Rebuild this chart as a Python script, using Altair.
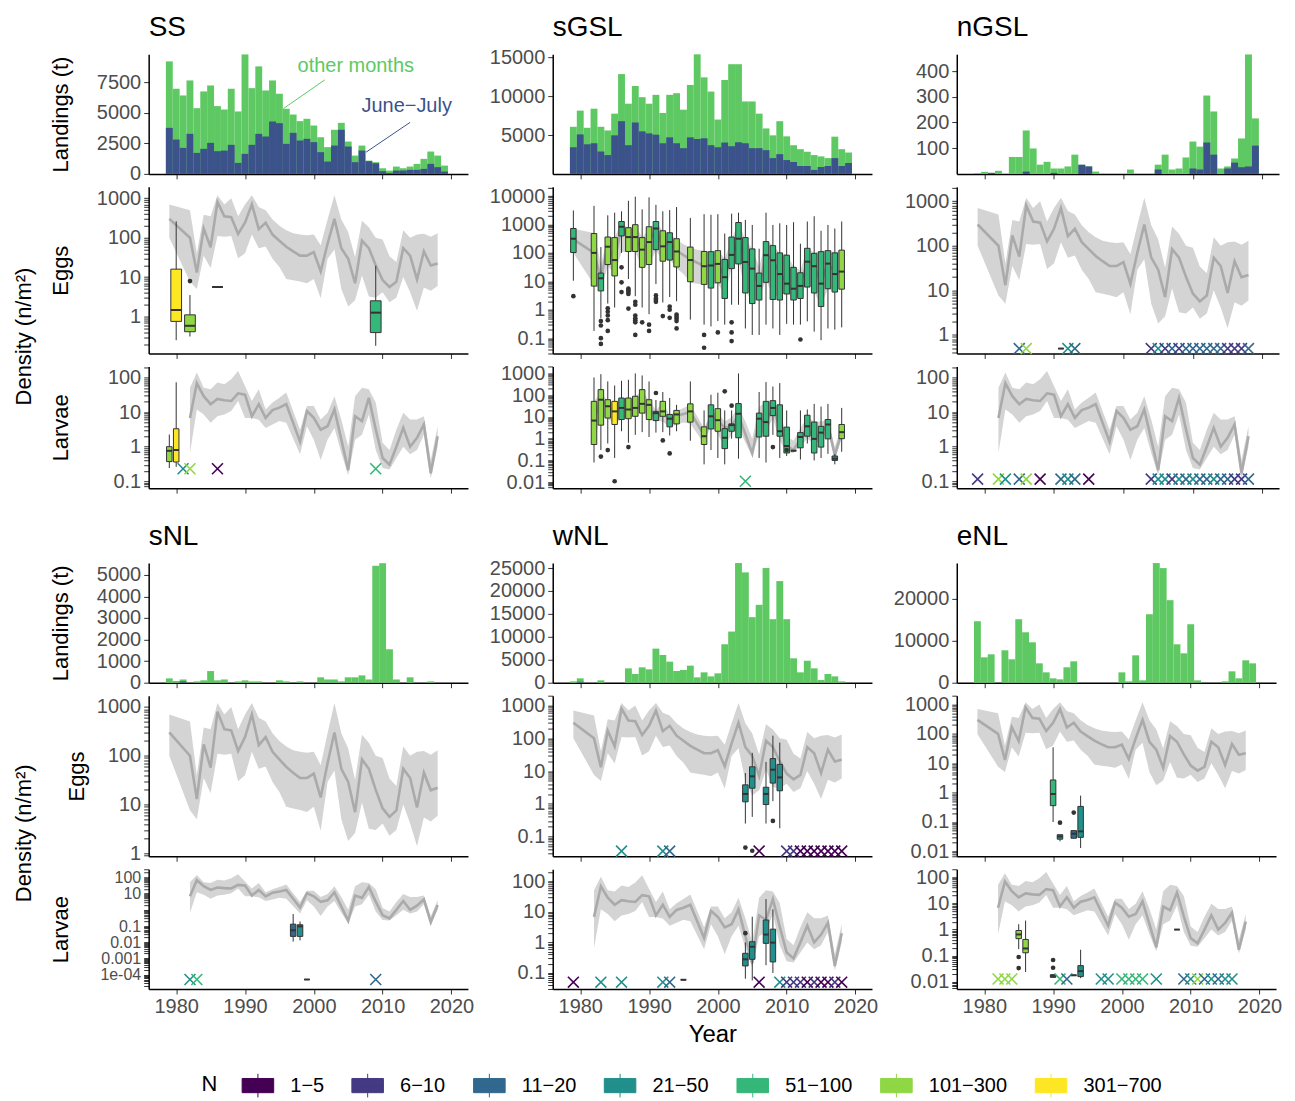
import altair as alt
import pandas as pd

FONT = "Liberation Sans"
N_LEVELS = ["1−5", "6−10", "11−20", "21−50", "51−100", "101−300", "301−700"]
N_COLORS = ["#440154", "#443A83", "#31688E", "#21908C", "#35B779", "#8FD744", "#FDE725"]
LAND_GREEN = "#5EC962"
LAND_BLUE = "#3B528B"
BAND_GREY = "#D4D4D4"
LINE_GREY = "#AAAAAA"
INK = "#333333"

# ---------------- survey index (grey band + line, same in every panel) ----------------
EGG_IDX_YEARS = [1979, 1982, 1983, 1984, 1985, 1986, 1987, 1988, 1989, 1990, 1991, 1992, 1993,
                 1994, 1995, 1996, 1997, 1998, 1999, 2000, 2001, 2002, 2003, 2004, 2005, 2006,
                 2007, 2008, 2009, 2010, 2011, 2012, 2013, 2014, 2015, 2016, 2017, 2018]
EGG_IDX_MEAN = [300, 100, 13, 170, 57, 800, 350, 330, 125, 240, 700, 165, 240, 120, 84, 59, 45, 35,
                35, 43, 14, 70, 300, 54, 29, 7, 84, 54, 20, 8.4, 5.6, 7.6, 54, 35, 8.7, 45, 19.6, 22]
EGG_IDX_LO = [100, 7.6, 5, 35, 17, 110, 105, 110, 30, 40, 120, 54, 60, 29, 18, 9, 8.3, 7.7, 7, 9,
              2.9, 29, 50, 5, 1.8, 2.6, 11, 3.2, 3, 4.1, 2.3, 3, 10, 4.1, 1.4, 5.4, 4.5, 5.9]
EGG_IDX_HI = [700, 500, 40, 380, 350, 1200, 700, 1000, 350, 700, 1200, 600, 500, 290, 200, 155, 130,
              120, 115, 120, 64, 290, 1200, 290, 140, 32, 270, 185, 100, 90, 34, 24, 155, 100, 120,
              125, 105, 130]

LARV_IDX_YEARS = [1982, 1983, 1984, 1985, 1986, 1987, 1988, 1989, 1990, 1991, 1992, 1993, 1994,
                  1995, 1996, 1998, 1999, 2000, 2001, 2002, 2003, 2004, 2005, 2006, 2007, 2008,
                  2009, 2010, 2011, 2012, 2013, 2014, 2015, 2016, 2017, 2018]
LARV_IDX_MEAN = [6.8, 68, 29, 17, 24, 22, 21, 35, 32, 7.6, 17, 6.8, 11.5, 13.5, 17, 1.4, 10.7, 6.8,
                 3.1, 3.9, 12, 1.6, 0.21, 7.6, 5.5, 26, 3.2, 0.47, 0.3, 1.0, 3.5, 1.0, 1.8, 4.4,
                 0.17, 2.0]
LARV_IDX_LO = [0.66, 12, 8.5, 4.9, 7.6, 8.5, 10.7, 21, 6.8, 6.8, 6, 3.5, 4.4, 5.5, 4.9, 0.6, 3.9,
               1.6, 0.41, 1.6, 3.5, 0.66, 0.15, 1.6, 2.2, 8.5, 0.8, 0.24, 0.22, 0.47, 1.0, 0.6, 0.8,
               2.2, 0.12, 1.0]
LARV_IDX_HI = [51, 140, 51, 46, 72, 64, 90, 156, 57, 21, 46, 12, 19, 26, 37, 3.1, 15, 15, 6.1, 9.6,
               29, 6.1, 1.0, 29, 51, 46, 19, 1.3, 0.8, 3.1, 9.6, 6.1, 6.1, 7.6, 0.41, 3.9]

# ---------------- landings (t): total and June-July part ----------------
LAND_YEARS = list(range(1979, 2020))
SS_TOTAL = [9210, 6970, 6420, 7650, 5380, 6750, 7240, 5550, 5270, 6970, 5110, 9780, 7020, 8800,
            6830, 7650, 6560, 5330, 4860, 4320, 4510, 3960, 3000, 2190, 3610, 4180, 2650, 1500,
            2320, 1090, 960, 460, 270, 600, 460, 600, 820, 1230, 1830, 1500, 680]
SS_JJ = [3770, 2810, 2130, 3280, 1720, 2050, 2540, 1860, 1910, 2380, 900, 1640, 2380, 3280, 3060,
         4290, 4150, 2460, 3360, 2730, 2870, 2600, 1780, 1010, 2320, 3610, 2240, 960, 1910, 1040,
         870, 220, 80, 270, 270, 330, 330, 410, 820, 550, 190]
SGSL_TOTAL = [6060, 8140, 5930, 8390, 6060, 5590, 7750, 12840, 9030, 11310, 9870, 9030, 10170,
              7840, 10170, 10380, 8260, 11440, 15380, 12420, 10590, 6990, 12080, 14110, 14110,
              9320, 9320, 7750, 5850, 4960, 6780, 4830, 3690, 3180, 2840, 2420, 2250, 2030, 4790,
              3180, 2750]
SGSL_JJ = [3430, 5080, 3810, 3940, 2880, 2420, 4960, 6780, 3690, 6610, 5470, 5210, 5040, 3940,
           4700, 3940, 3310, 4700, 4490, 4580, 3690, 3430, 4030, 3560, 4070, 3940, 3310, 3310,
           3050, 2030, 2540, 1780, 1530, 1020, 1020, 510, 890, 1020, 2030, 1020, 1400]
NGSL_TOTAL = [3, 8, 4, 12, 0, 66, 66, 169, 99, 36, 47, 21, 21, 29, 75, 36, 29, 9, 0, 0, 0, 0, 17,
              0, 0, 0, 36, 75, 17, 21, 64, 126, 106, 305, 243, 21, 29, 60, 138, 465, 216]
NGSL_JJ = [0, 0, 4, 0, 0, 0, 0, 9, 0, 0, 0, 4, 0, 0, 0, 36, 29, 0, 0, 0, 0, 0, 0, 0, 0, 0, 17, 0,
           0, 0, 0, 21, 17, 122, 75, 0, 21, 44, 26, 29, 110]
SNL_TOTAL = [200, 80, 150, 0, 60, 110, 540, 110, 150, 0, 60, 110, 60, 60, 0, 0, 110, 60, 0, 60, 0,
             0, 250, 150, 150, 60, 250, 250, 340, 150, 5420, 5540, 1550, 150, 0, 250, 0, 0, 60, 0, 0]
SNL_JJ = [0, 0, 60, 0, 0, 0, 0, 0, 0, 0, 0, 0, 0, 0, 0, 0, 0, 0, 0, 0, 0, 0, 0, 0, 0, 0, 0, 0, 0,
          0, 0, 0, 0, 0, 0, 0, 0, 0, 0, 0, 0]
WNL_TOTAL = [290, 950, 0, 0, 510, 0, 0, 0, 3130, 1900, 3350, 2920, 7430, 6050, 4590, 2550, 2770,
             3720, 1170, 2260, 1380, 2040, 8380, 11150, 26090, 24050, 14290, 16980, 25000, 13850,
             22160, 13850, 5320, 2260, 4810, 3130, 580, 1900, 1380, 290, 0]
WNL_JJ = [0, 200, 0, 0, 0, 0, 0, 0, 0, 0, 0, 0, 0, 0, 0, 0, 0, 0, 0, 0, 0, 0, 0, 0, 0, 0, 0, 0, 0,
          0, 0, 0, 0, 0, 0, 0, 0, 0, 0, 0, 0]
ENL_TOTAL = [14660, 6060, 6770, 0, 7730, 5580, 15140, 12030, 9640, 4620, 2470, 1040, 800, 3670,
             5100, 0, 0, 0, 0, 0, 0, 2470, 320, 6530, 560, 16330, 28530, 27330, 19680, 9160, 7010,
             13940, 560, 0, 0, 0, 320, 2710, 1040, 5340, 4620]
ENL_JJ = [0] * 41

# ---------------- boxplots: (year, N, lower whisker, q1, median, q3, upper whisker) ----------------
SS_EGG_BOX = [(1980, "301−700", 0.25, 0.75, 1.46, 15.9, 260), (1982, "101−300", 0.31, 0.41, 0.58, 1.1, 3.5),
              (1986, "1−5", 5.6, 5.6, 5.6, 5.6, 5.6), (2009, "51−100", 0.18, 0.39, 1.25, 2.5, 19.4)]
SS_EGG_OUT = [(1982, 7.9)]
SS_EGG_X = []
SS_LARV_BOX = [(1979, "101−300", 0.24, 0.37, 0.76, 1.0, 2.25), (1980, "301−700", 0.26, 0.36, 0.8, 3.3, 73)]
SS_LARV_OUT = []
SS_LARV_X = [(1981, "21−50"), (1982, "101−300"), (1986, "1−5"), (2009, "51−100")]

SGSL_EGG_BOX = [
    (1979, "51−100", 10.5, 103, 315, 720, 3100), (1982, "101−300", 0.18, 6.8, 100, 480, 4500),
    (1983, "51−100", 0.5, 4.6, 12.8, 19.5, 160), (1984, "101−300", 1.65, 39, 165, 360, 2100),
    (1985, "101−300", 1.2, 15.5, 56, 345, 2600), (1986, "51−100", 100, 395, 830, 1270, 2900),
    (1987, "101−300", 12, 112, 360, 770, 6800), (1988, "101−300", 3, 112, 360, 980, 9500),
    (1989, "101−300", 1.2, 31, 130, 345, 3400), (1990, "101−300", 0.7, 39, 240, 830, 9000),
    (1991, "51−100", 8, 130, 720, 1270, 4900), (1992, "101−300", 1.8, 51, 170, 600, 2900),
    (1993, "51−100", 2.8, 56, 240, 510, 3200), (1994, "101−300", 2, 32, 112, 315, 4100),
    (1996, "101−300", 0.45, 9.7, 56, 160, 1700), (1998, "101−300", 0.3, 7.8, 34, 112, 2300),
    (1999, "51−100", 0.26, 5.8, 36, 110, 2200), (2000, "101−300", 0.4, 8.9, 41, 120, 2300),
    (2001, "51−100", 0.3, 2.5, 14, 59, 480), (2002, "51−100", 1.5, 28, 85, 360, 2400),
    (2003, "51−100", 1.5, 41, 315, 1170, 2600), (2004, "51−100", 0.22, 3.9, 48, 345, 1450),
    (2005, "51−100", 0.13, 1.65, 28, 138, 960), (2006, "51−100", 0.13, 2.2, 6.9, 19.5, 140),
    (2007, "51−100", 0.3, 9.2, 83, 250, 2600), (2008, "51−100", 0.22, 2.3, 55, 180, 960),
    (2009, "51−100", 0.13, 2.2, 18, 100, 1100), (2010, "51−100", 0.32, 3.6, 8.3, 83, 960),
    (2011, "51−100", 0.3, 2.2, 5.5, 31, 1200), (2012, "51−100", 0.3, 2.5, 6.9, 20, 210),
    (2013, "51−100", 0.39, 6.3, 49, 145, 1270), (2014, "51−100", 0.17, 3.9, 34, 96, 1950),
    (2015, "51−100", 0.085, 1.3, 8.3, 110, 600), (2016, "51−100", 0.22, 5.5, 42, 120, 960),
    (2017, "51−100", 0.2, 4.2, 18, 100, 720), (2018, "101−300", 0.24, 5.3, 22, 125, 1270)]
SGSL_EGG_OUT = [(1979, 3.0), (1983, 0.4), (1983, 0.28), (1983, 0.1), (1983, 0.063), (1984, 1.13),
                (1984, 0.85), (1984, 0.63), (1984, 0.43), (1984, 0.18), (1986, 31), (1986, 9.2),
                (1986, 4.2), (1987, 5.5), (1987, 4.9), (1987, 4.2), (1987, 3.6), (1987, 1.1),
                (1988, 1.9), (1988, 1.5), (1988, 0.63), (1988, 0.5), (1988, 0.43), (1988, 0.36),
                (1988, 0.13), (1989, 0.36), (1990, 0.3), (1990, 0.18), (1991, 3.2), (1991, 2.5),
                (1991, 2.2), (1991, 1.9), (1992, 0.6), (1993, 1.3), (1993, 1.0), (1993, 0.52),
                (1994, 0.68), (1994, 0.57), (1994, 0.48), (1994, 0.4), (1994, 0.22), (1998, 0.13),
                (1998, 0.046), (2000, 0.16), (2002, 0.36), (2002, 0.16), (2002, 0.079), (2012, 0.09)]
SGSL_EGG_X = []
SGSL_LARV_BOX = [
    (1982, "101−300", 0.08, 0.54, 6.8, 52, 650), (1983, "101−300", 0.3, 4.2, 62, 180, 930),
    (1984, "101−300", 0.6, 8.9, 31, 62, 430), (1985, "301−700", 0.13, 4.5, 18, 52, 280),
    (1986, "51−100", 2.2, 7.6, 26, 74, 460), (1987, "101−300", 0.65, 8.3, 22, 74, 510),
    (1988, "101−300", 1.5, 10.7, 26, 89, 1000), (1989, "101−300", 2, 15, 40, 180, 810),
    (1990, "101−300", 1.2, 7.6, 36, 62, 430), (1991, "51−100", 1.9, 6.8, 15, 18, 60),
    (1992, "101−300", 2, 10.7, 18, 52, 140), (1993, "51−100", 1.4, 3.5, 8.3, 13, 74),
    (1994, "101−300", 2.2, 4.8, 13, 20, 36), (1996, "101−300", 0.8, 5.8, 18, 40, 430),
    (1998, "101−300", 0.066, 0.54, 1.3, 3.5, 20), (1999, "51−100", 0.3, 2.8, 10.7, 36, 105),
    (2000, "101−300", 0.13, 2.2, 7.1, 24, 130), (2001, "51−100", 0.066, 0.35, 1.1, 2.9, 20),
    (2002, "51−100", 1.0, 2.2, 4.2, 4.8, 20), (2003, "51−100", 0.12, 1.1, 14, 41, 1000),
    (2006, "51−100", 0.13, 1.2, 8.3, 15, 140), (2007, "51−100", 0.08, 1.3, 5.8, 52, 400),
    (2008, "51−100", 1.5, 11.5, 26, 56, 250), (2009, "51−100", 0.13, 1.3, 2.2, 36, 360),
    (2010, "51−100", 0.16, 0.22, 0.46, 3.4, 20), (2011, "51−100", 0.28, 0.28, 0.28, 0.28, 0.28),
    (2012, "51−100", 0.11, 0.38, 1.2, 1.9, 20), (2013, "51−100", 0.6, 1.3, 3.7, 12, 22),
    (2014, "51−100", 0.1, 0.22, 0.98, 5.8, 40), (2015, "51−100", 0.13, 0.41, 1.9, 3.7, 30),
    (2016, "51−100", 0.2, 0.98, 4.5, 7.6, 40), (2017, "21−50", 0.066, 0.1, 0.12, 0.16, 0.2),
    (2018, "101−300", 0.25, 1.0, 2.0, 4.5, 26)]
SGSL_LARV_OUT = [(1983, 0.15), (1984, 0.3), (1985, 0.011), (1987, 0.41), (1991, 126), (1992, 0.83),
                 (1993, 0.21), (2001, 150), (2002, 33), (2008, 0.41), (2010, 0.3)]
SGSL_LARV_X = [(2004, "51−100")]

NGSL_EGG_BOX = [(1991, "11−20", 0.49, 0.49, 0.49, 0.49, 0.49)]
NGSL_EGG_OUT = []
NGSL_EGG_X = [(1985, "11−20"), (1986, "101−300"), (1992, "21−50"), (1993, "11−20"), (2004, "6−10"),
              (2005, "21−50"), (2006, "6−10"), (2007, "11−20"), (2008, "6−10"), (2009, "11−20"),
              (2010, "11−20"), (2011, "11−20"), (2012, "11−20"), (2013, "11−20"), (2014, "11−20"),
              (2015, "6−10"), (2016, "6−10"), (2017, "6−10"), (2018, "11−20")]
NGSL_LARV_BOX = []
NGSL_LARV_OUT = []
NGSL_LARV_X = [(1979, "6−10"), (1982, "101−300"), (1983, "21−50"), (1985, "11−20"), (1986, "101−300"),
               (1988, "1−5"), (1991, "11−20"), (1992, "21−50"), (1993, "11−20"), (1995, "1−5"),
               (2004, "6−10"), (2005, "21−50"), (2006, "21−50"), (2007, "6−10"), (2008, "21−50"),
               (2009, "11−20"), (2010, "21−50"), (2011, "11−20"), (2012, "11−20"), (2013, "21−50"),
               (2014, "11−20"), (2015, "11−20"), (2016, "6−10"), (2017, "6−10"), (2018, "11−20")]

SNL_EGG_BOX = []
SNL_EGG_OUT = []
SNL_EGG_X = []
SNL_LARV_BOX = [(1997, "11−20", 0.011, 0.023, 0.055, 0.13, 0.55), (1998, "21−50", 0.013, 0.023, 0.095, 0.12, 0.19),
                (1999, "1−5", 0.00005, 0.00005, 0.00005, 0.00005, 0.00005)]
SNL_LARV_OUT = []
SNL_LARV_X = [(1982, "21−50"), (1983, "51−100"), (2009, "11−20")]

WNL_EGG_BOX = [(2004, "21−50", 0.25, 1.15, 2.0, 3.8, 8.7), (2005, "21−50", 0.4, 3.0, 6.9, 13.5, 36),
               (2007, "21−50", 0.25, 0.95, 2.0, 3.2, 19), (2008, "21−50", 1.2, 4.3, 11, 24, 120),
               (2009, "21−50", 0.18, 2.5, 6.4, 16, 74)]
WNL_EGG_OUT = [(2004, 0.046), (2005, 0.037), (2008, 0.3)]
WNL_EGG_X = [(1986, "21−50"), (1992, "21−50"), (1993, "11−20"), (2006, "1−5"), (2010, "6−10"),
             (2011, "6−10"), (2012, "1−5"), (2013, "1−5"), (2014, "1−5"), (2015, "1−5"),
             (2016, "1−5"), (2017, "1−5"), (2018, "1−5")]
WNL_LARV_BOX = [(1995, "1−5", 0.06, 0.06, 0.06, 0.06, 0.06), (2004, "21−50", 0.065, 0.17, 0.28, 0.44, 1.0),
                (2005, "21−50", 0.057, 0.28, 0.72, 1.05, 6.9), (2007, "21−50", 0.18, 0.93, 1.8, 5.4, 26),
                (2008, "21−50", 0.1, 0.23, 0.98, 2.7, 12)]
WNL_LARV_OUT = [(2004, 2.0)]
WNL_LARV_X = [(1979, "1−5"), (1983, "21−50"), (1986, "21−50"), (1992, "21−50"), (1993, "11−20"),
              (2006, "1−5"), (2009, "21−50"), (2010, "6−10"), (2011, "6−10"), (2012, "6−10"),
              (2013, "1−5"), (2014, "6−10"), (2015, "1−5"), (2016, "1−5"), (2017, "6−10"), (2018, "1−5")]

ENL_EGG_BOX = [(1990, "51−100", 0.1, 0.36, 0.9, 2.7, 35), (1991, "21−50", 0.022, 0.026, 0.032, 0.037, 0.037),
               (1993, "11−20", 0.028, 0.028, 0.04, 0.051, 0.051), (1994, "21−50", 0.013, 0.03, 0.048, 0.34, 0.79)]
ENL_EGG_OUT = [(1991, 0.095), (1993, 0.21)]
ENL_EGG_X = []
ENL_LARV_BOX = [(1985, "101−300", 0.18, 0.45, 0.65, 0.92, 1.6), (1986, "101−300", 0.024, 0.13, 0.19, 0.42, 2.2),
                (1990, "51−100", 0.015, 0.015, 0.017, 0.019, 0.019), (1993, "11−20", 0.018, 0.018, 0.018, 0.018, 0.018),
                (1994, "21−50", 0.014, 0.016, 0.026, 0.042, 0.17), (2008, "11−20", 1.0, 1.0, 1.0, 1.0, 1.0)]
ENL_LARV_OUT = [(1985, 0.09), (1985, 0.034), (1990, 0.069), (1990, 0.035)]
ENL_LARV_X = [(1982, "101−300"), (1983, "101−300"), (1984, "101−300"), (1991, "51−100"), (1992, "11−20"),
              (1997, "21−50"), (1998, "21−50"), (2000, "51−100"), (2001, "51−100"), (2002, "51−100"),
              (2003, "51−100"), (2005, "21−50"), (2009, "11−20"), (2010, "21−50"), (2011, "101−300"),
              (2012, "11−20"), (2013, "21−50"), (2014, "11−20"), (2015, "21−50"), (2016, "21−50")]

# ---------------- SS landings annotation ----------------
ANN_OTHER_TEXT = pd.DataFrame({"year": [2006.1], "t": [8840], "label": ["other months"]})
ANN_JJ_TEXT = pd.DataFrame({"year": [2013.5], "t": [5520], "label": ["June−July"]})
ANN_OTHER_LINE = pd.DataFrame({"x1": [1995.6], "x2": [2001.6], "y1": [5350], "y2": [7700]})
ANN_JJ_LINE = pd.DataFrame({"x1": [2007.6], "x2": [2014.0], "y1": [1780], "y2": [4220]})

# ---------------- helpers ----------------
YEAR_TICKS = [1980, 1990, 2000, 2010, 2020]
X_DOMAIN = [1976, 2022.4]
X_PATH = "M-1,-1L1,1M-1,1L1,-1"
BOX_PATH = "M-1,-0.45H1V0.45H-1Z M-1,0H1 M0,-0.45V-0.75 M0,0.45V0.75"

LEGEND = alt.Legend(title="N", orient="none", legendX=53, legendY=1017, direction="horizontal",
                    titleOrient="left", symbolType=BOX_PATH, symbolSize=1000, symbolStrokeColor=INK,
                    symbolStrokeWidth=1, labelFontSize=20, titleFontSize=22, labelFont=FONT,
                    titleFont=FONT, labelColor="black", titleColor="black", titleFontWeight="normal",
                    columnPadding=25, labelOffset=16, titlePadding=24)
COLOR = alt.Color("N:N", scale=alt.Scale(domain=N_LEVELS, range=N_COLORS), legend=LEGEND)
STROKE = alt.Stroke("N:N", scale=alt.Scale(domain=N_LEVELS, range=N_COLORS), legend=None)


def x_enc(field, labels, title):
    return alt.X(f"{field}:Q", scale=alt.Scale(domain=X_DOMAIN, nice=False, zero=False),
                 axis=alt.Axis(values=YEAR_TICKS, labels=labels, format="d", title=title,
                               titleFontSize=24, titlePadding=6))


def log_axis(domain, majors, title, label_size, title_x):
    ticks = []
    for k in range(-6, 6):
        for m in range(1, 10):
            v = round(m * 10.0 ** k, 10)
            if domain[0] <= v <= domain[1]:
                ticks.append(v)
    expr = " : ".join(f"datum.value == {v} ? '{lab}'" for v, lab in majors) + " : ''"
    if title is None:
        return alt.Axis(values=ticks, labelExpr=expr, title=None, labelOverlap=False,
                        labelFontSize=label_size)
    return alt.Axis(values=ticks, labelExpr=expr, title=title, labelOverlap=False, titleX=title_x,
                    labelFontSize=label_size)


def density_panel(kind, boxes, outliers, crosses, cross_level, domain, majors, width, height,
                  ytitle, xlabels, xtitle, half=0.4, extra=None, label_size=20, title_x=-76):
    if kind == "egg":
        idx = pd.DataFrame({"year": EGG_IDX_YEARS, "mean": EGG_IDX_MEAN, "lo": EGG_IDX_LO, "hi": EGG_IDX_HI})
    else:
        idx = pd.DataFrame({"year": LARV_IDX_YEARS, "mean": LARV_IDX_MEAN, "lo": LARV_IDX_LO, "hi": LARV_IDX_HI})
    ysc = alt.Scale(type="log", domain=domain, nice=False)
    yax = log_axis(domain, majors, ytitle, label_size, title_x)

    def Y(f):
        return alt.Y(f"{f}:Q", scale=ysc, axis=yax)

    def X(f):
        return x_enc(f, xlabels, xtitle)

    layers = [
        alt.Chart(idx).mark_area(color=BAND_GREY, opacity=1, clip=True).encode(x=X("year"), y=Y("lo"), y2="hi"),
        alt.Chart(idx).mark_line(color=LINE_GREY, strokeWidth=2.6, clip=True).encode(x=X("year"), y=Y("mean")),
    ]
    if boxes:
        bdf = pd.DataFrame(boxes, columns=["year", "N", "lo", "q1", "med", "q3", "hi"])
        base = alt.Chart(bdf).transform_calculate(xl=f"datum.year - {half}", xr=f"datum.year + {half}")
        layers.append(base.mark_rule(color=INK, strokeWidth=1).encode(x=X("year"), y=Y("lo"), y2="hi"))
        layers.append(base.mark_rect(stroke=INK, strokeWidth=1).encode(x=X("xl"), x2="xr", y=Y("q1"), y2="q3", color=COLOR))
        layers.append(base.mark_rule(color=INK, strokeWidth=2).encode(x=X("xl"), x2="xr", y=Y("med")))
    if outliers:
        odf = pd.DataFrame(outliers, columns=["year", "value"])
        layers.append(alt.Chart(odf).mark_circle(color=INK, size=22, opacity=1).encode(x=X("year"), y=Y("value")))
    if crosses:
        cdf = pd.DataFrame(crosses, columns=["year", "N"])
        layers.append(alt.Chart(cdf).transform_calculate(level=f"{cross_level}")
                      .mark_point(shape=X_PATH, filled=False, size=120, strokeWidth=1.6, opacity=1)
                      .encode(x=X("year"), y=Y("level"), stroke=STROKE))
    if extra is not None:
        layers.append(extra)
    return alt.layer(*layers).properties(width=width, height=height)


def landings_panel(title, total, jj, domain, values, width, height, ytitle, annotate=False, title_offset=12):
    df = pd.DataFrame({"year": LAND_YEARS, "total": total, "jj": jj})
    base = alt.Chart(df).transform_calculate(xl="datum.year - 0.5", xr="datum.year + 0.5", zero="0")
    ysc = alt.Scale(domain=domain, nice=False, zero=True)
    if ytitle is None:
        yax = alt.Axis(values=values, format="d", title=None)
    else:
        yax = alt.Axis(values=values, format="d", title=ytitle, titleX=-76)

    def X(f):
        return x_enc(f, False, None)

    def Y(f):
        return alt.Y(f"{f}:Q", scale=ysc, axis=yax)

    layers = [
        base.mark_rect(color=LAND_GREEN, opacity=1).encode(x=X("xl"), x2="xr", y=Y("total"), y2="zero:Q"),
        base.mark_rect(color=LAND_BLUE, opacity=1).encode(x=X("xl"), x2="xr", y=Y("jj"), y2="zero:Q"),
    ]
    if annotate:
        for line_df, text_df, col in ((ANN_OTHER_LINE, ANN_OTHER_TEXT, LAND_GREEN),
                                      (ANN_JJ_LINE, ANN_JJ_TEXT, LAND_BLUE)):
            layers.append(alt.Chart(line_df).mark_rule(color=col, strokeWidth=1).encode(
                x=X("x1"), x2="x2", y=Y("y1"), y2="y2"))
            layers.append(alt.Chart(text_df).mark_text(color=col, fontSize=20, font=FONT).encode(
                x=X("year"), y=Y("t"), text="label:N"))
    return alt.layer(*layers).properties(
        width=width, height=height,
        title=alt.TitleParams(text=title, anchor="start", frame="group", fontSize=28, font=FONT,
                              fontWeight="normal", color="black", offset=title_offset))


def density_label(yc):
    return alt.Chart(pd.DataFrame({"t": ["Density (n/m²)"]})).mark_text(
        angle=270, fontSize=22, font=FONT, color="black", align="center", baseline="middle"
    ).encode(text="t:N", x=alt.value(-125), y=alt.value(yc))


def spacer(width, height):
    return alt.Chart(pd.DataFrame({"s": [0]})).mark_point(opacity=0).encode(
        x=alt.value(0), y=alt.value(0)).properties(width=width, height=height)


M_1_1000 = [(1, "1"), (10, "10"), (100, "100"), (1000, "1000")]
M_01_100 = [(0.1, "0.1"), (1, "1"), (10, "10"), (100, "100")]

HL1, HE1, HV1 = 120, 167, 122
HL2, HE2, HV2 = 120, 161, 120
W3 = 323

cells = [
    # ---- row 1: landings ----
    landings_panel("SS", SS_TOTAL, SS_JJ, [0, 9800], [0, 2500, 5000, 7500], 320, HL1, "Landings (t)", True),
    landings_panel("sGSL", SGSL_TOTAL, SGSL_JJ, [0, 15400], [5000, 10000, 15000], 320, HL1, None, title_offset=5),
    landings_panel("nGSL", NGSL_TOTAL, NGSL_JJ, [0, 466], [100, 200, 300, 400], W3, HL1, None),
    # ---- row 1: eggs ----
    density_panel("egg", SS_EGG_BOX, SS_EGG_OUT, SS_EGG_X, 0.2, [0.115, 1950], M_1_1000, 320, HE1, "Eggs",
                  False, None, half=0.78, extra=density_label(150)),
    density_panel("egg", SGSL_EGG_BOX, SGSL_EGG_OUT, SGSL_EGG_X, 0.05, [0.029, 21000],
                  [(0.1, "0.1"), (1, "1"), (10, "10"), (100, "100"), (1000, "1000"), (10000, "10000")],
                  320, HE1, None, False, None),
    density_panel("egg", NGSL_EGG_BOX, NGSL_EGG_OUT, NGSL_EGG_X, 0.49, [0.38, 2100], M_1_1000, W3, HE1, None,
                  False, None),
    # ---- row 1: larvae ----
    density_panel("larv", SS_LARV_BOX, SS_LARV_OUT, SS_LARV_X, 0.23, [0.063, 210], M_01_100, 320, HV1, "Larvae",
                  False, None),
    density_panel("larv", SGSL_LARV_BOX, SGSL_LARV_OUT, SGSL_LARV_X, 0.011, [0.0053, 2100],
                  [(0.01, "0.01"), (0.1, "0.1"), (1, "1"), (10, "10"), (100, "100"), (1000, "1000")],
                  320, HV1, None, False, None),
    density_panel("larv", NGSL_LARV_BOX, NGSL_LARV_OUT, NGSL_LARV_X, 0.115, [0.063, 210], M_01_100, W3, HV1,
                  None, False, None),
    # ---- gap between the two blocks ----
    spacer(320, 49), spacer(320, 49), spacer(W3, 49),
    # ---- row 2: landings ----
    landings_panel("sNL", SNL_TOTAL, SNL_JJ, [0, 5550], [0, 1000, 2000, 3000, 4000, 5000], 320, HL2, "Landings (t)"),
    landings_panel("wNL", WNL_TOTAL, WNL_JJ, [0, 26100], [0, 5000, 10000, 15000, 20000, 25000], 320, HL2, None,
                   title_offset=7),
    landings_panel("eNL", ENL_TOTAL, ENL_JJ, [0, 28550], [0, 10000, 20000], 320, HL2, None),
    # ---- row 2: eggs ----
    density_panel("egg", SNL_EGG_BOX, SNL_EGG_OUT, SNL_EGG_X, 1, [0.87, 1700], M_1_1000, 320, HE2, "Eggs",
                  False, None, extra=density_label(138), title_x=-60),
    density_panel("egg", WNL_EGG_BOX, WNL_EGG_OUT, WNL_EGG_X, 0.036, [0.025, 2000],
                  [(0.1, "0.1"), (1, "1"), (10, "10"), (100, "100"), (1000, "1000")], 320, HE2, None, False, None),
    density_panel("egg", ENL_EGG_BOX, ENL_EGG_OUT, ENL_EGG_X, 0.01, [0.0068, 2000],
                  [(0.01, "0.01"), (0.1, "0.1"), (1, "1"), (10, "10"), (100, "100"), (1000, "1000")],
                  320, HE2, None, False, None),
    # ---- row 2: larvae ----
    density_panel("larv", SNL_LARV_BOX, SNL_LARV_OUT, SNL_LARV_X, 0.00005, [0.000013, 320],
                  [(0.0001, "1e-04"), (0.001, "0.001"), (0.01, "0.01"), (0.1, "0.1"), (10, "10"), (100, "100")],
                  320, HV2, "Larvae", True, None, label_size=16),
    density_panel("larv", WNL_LARV_BOX, WNL_LARV_OUT, WNL_LARV_X, 0.05, [0.03, 245],
                  M_01_100, 320, HV2, None, True, "Year"),
    density_panel("larv", ENL_LARV_BOX, ENL_LARV_OUT, ENL_LARV_X, 0.013, [0.0054, 200],
                  [(0.01, "0.01"), (0.1, "0.1"), (1, "1"), (10, "10"), (100, "100")], 320, HV2, None, True, None),
]

chart = (
    alt.concat(*cells, columns=3, bounds="flush", spacing=alt.RowColnumber(row=13, column=85))
    .resolve_scale(x="independent", y="independent", color="shared", stroke="shared")
    .configure(font=FONT)
    .configure_axis(labelFont=FONT, titleFont=FONT, labelFontSize=20, titleFontSize=22,
                    labelColor="#4D4D4D", titleColor="black", titleFontWeight="normal",
                    domainColor="black", domainWidth=1.5, tickColor="#333333", tickWidth=1,
                    tickSize=5, grid=False, labelPadding=3)
    .configure_view(strokeWidth=0)
)

chart.save("out.html", embed_options={"renderer": "svg", "actions": False})
